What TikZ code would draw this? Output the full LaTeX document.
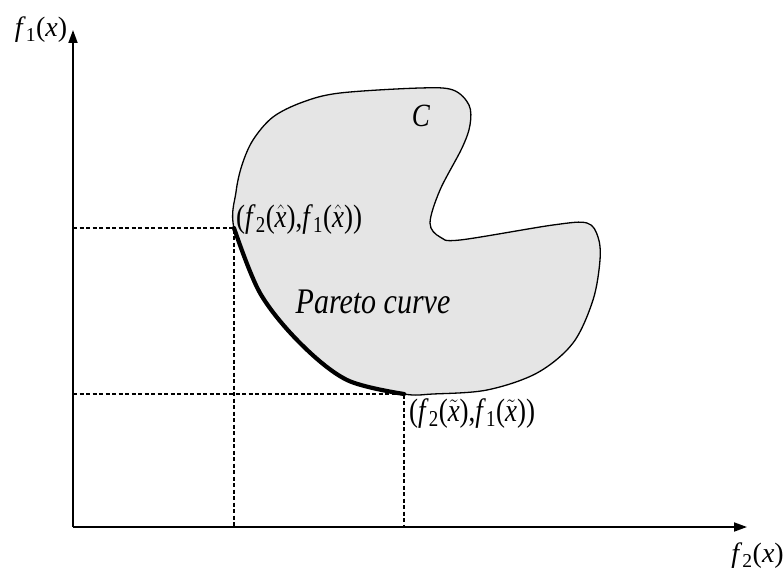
\documentclass[tikz,border=0pt]{standalone}
\usepackage{fontspec}
\setmainfont{Liberation Serif}
\usetikzlibrary{arrows.meta}
\newcommand{\fof}[2]{\textit{f}\textsubscript{#1}(#2)}
\newcommand{\xhat}{$\hat{\textit{x}}$}
\newcommand{\xtil}{$\tilde{\textit{x}}$}
\newcommand{\tallbox}[1]{\scalebox{1}[1.2]{#1}}
\tikzset{
  axis/.style={line width=1.8pt,-{Triangle[width=9pt,length=13pt]}},
  guide/.style={line width=1.4pt,dash pattern=on 4pt off 2.5pt},
  region/.style={fill=black!10,draw=black,line width=1.3pt},
  pareto/.style={line width=4.2pt,line cap=round},
  lbl/.style={font=\fontsize{27}{30}\selectfont,inner sep=0pt},
  axlbl/.style={font=\fontsize{28}{32}\selectfont,inner sep=0pt}
}
\begin{document}
\begin{tikzpicture}[x=1pt,y=-1pt]
\useasboundingbox (0,0) rectangle (784,572);
\coordinate (O) at (73,527);
\coordinate (ytip) at (73,30);
\coordinate (xtip) at (747,527);
\coordinate (phat) at (234,228);
\coordinate (ptil) at (404,394);
% feasible region C
\draw[region] plot[smooth cycle,tension=.55] coordinates {
  (234,228) (236,192) (242,165) (253,140) (273,117) (303,102) (340,93)
  (420,88) (453,90) (469,105) (470,125) (462,148) (440,190) (430,223)
  (440,237) (460,240) (553,225) (587,223) (598,237) (600,260) (593,300)
  (573,343) (537,373) (487,390) (433,394) (404,394) (347,380) (300,343)
  (260,293)};
% Pareto part of the boundary
\draw[pareto] plot[smooth,tension=.55] coordinates {
  (234,228) (260,293) (300,343) (347,380) (404,394)};
% dashed guides
\draw[guide] (O |- phat) -- (phat) -- (phat |- O);
\draw[guide] (O |- ptil) -- (ptil) -- (ptil |- O);
% axes
\draw[axis] (O) -- (ytip);
\draw[axis] (O) -- (xtip);
\node[axlbl] (f1lab) at (41,30) {\fof{1}{\textit{x}}};
\node[axlbl,anchor=east] (f2lab) at (784,556) {\fof{2}{\textit{x}}};
\node[lbl,anchor=west] (hatlab) at (236,220) {\tallbox{(\fof{2}{\xhat},\fof{1}{\xhat})}};
\node[lbl,anchor=west] (tillab) at (409,414) {\tallbox{(\fof{2}{\xtil},\fof{1}{\xtil})}};
\node[lbl] (Clab) at (421,116) {\tallbox{\textit{C}}};
\node[lbl,font=\fontsize{30}{34}\selectfont] (plab) at (373,302) {\tallbox{\textit{Pareto curve}}};
\end{tikzpicture}
\end{document}
